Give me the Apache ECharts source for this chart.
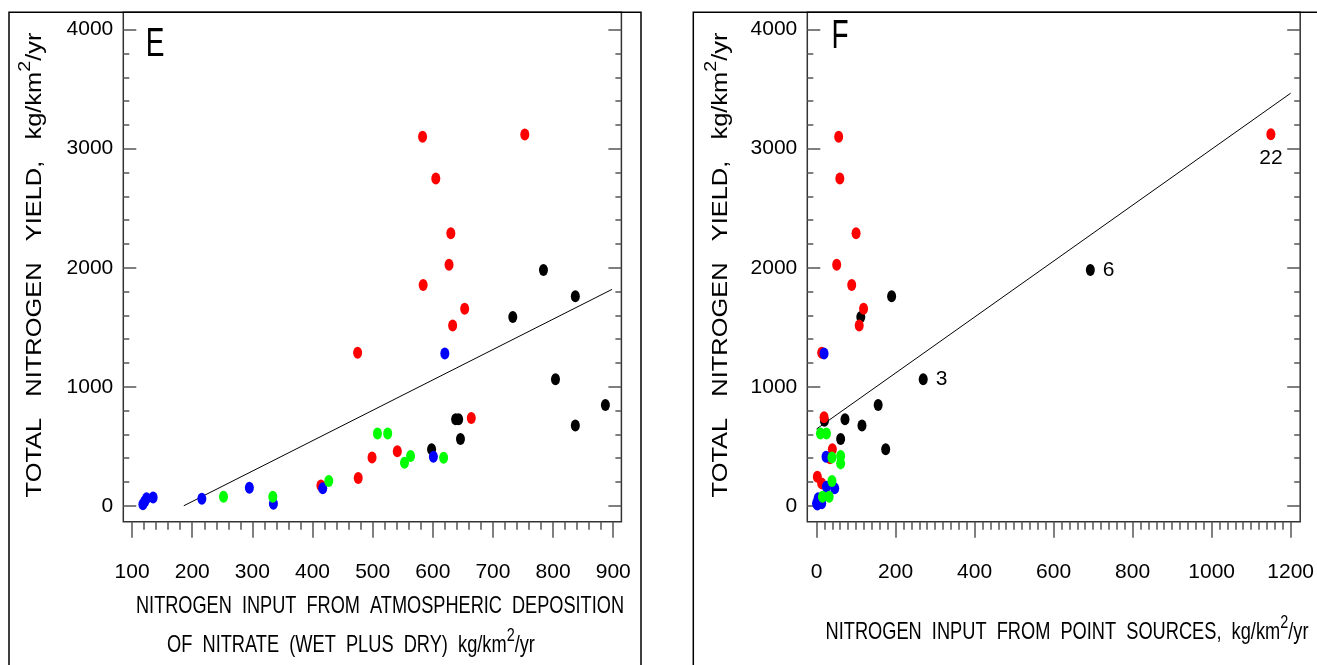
<!DOCTYPE html>
<html><head><meta charset="utf-8">
<script src="https://cdn.jsdelivr.net/npm/echarts@6/dist/echarts.min.js"></script>
<style>html,body{margin:0;padding:0;background:#fff}#c{width:1317px;height:665px}</style>
</head><body><div id="c"></div>
<script>
// ---------- Panel E: atmospheric deposition (x) vs total N yield (y) ----------
const E_black = [[784,1980],[837,1760],[733,1585],[804,1062],[887,846],[837,675],[638,726],[643,726],[646,561],[598,474]];
const E_red   = [[583,3100],[753,3120],[605,2750],[630,2290],[627,2025],[584,1855],[653,1655],[633,1515],[475,1285],[664,737],[541,457],[499,406],[476,233],[414,171]];
const E_blue  = [[620,1280],[601,412],[417,146],[295,152],[216,59],[335,17],[135,70],[124,62],[118,12],[121,35]];
const E_green = [[508,608],[525,608],[563,418],[553,361],[618,404],[427,208],[252,76],[334,76]];
const E_fit   = [[186,0],[898,1818]];

// ---------- Panel F: point sources (x) vs total N yield (y) ----------
const F_black = [[693,1981],[190,1760],[112,1585],[270,1062],[156,846],[115,675],[72,726],[20,715],[61,561],[175,474]];
const F_black_notes = ['6','','','3','','','','','',''];
const F_red   = [[56,3100],[1150,3121],[59,2750],[100,2290],[51,2025],[89,1855],[119,1655],[108,1515],[13,1285],[19,743],[40,474],[34,400],[2,244],[13,188]];
const F_red_notes = ['','22','','','','','','','','','','','',''];
const F_blue  = [[19,1280],[24,412],[46,146],[25,160],[0,20],[13,22],[4,62],[8,40],[2,10],[6,35]];
const F_green = [[10,608],[25,608],[61,418],[61,356],[39,406],[39,208],[15,76],[32,76]];
const F_fit   = [[0,645],[1200,3466]];

// ---------- ticks / texts ----------
const yMajor = [0,1000,2000,3000,4000];
const xMajorE = [100,200,300,400,500,600,700,800,900];
const xMajorF = [0,200,400,600,800,1000,1200];
const yMinor = []; for (let v = 0; v <= 4000; v += 200) yMinor.push(v);
const xMinorE = []; for (let v = 100; v <= 900; v += 20) xMinorE.push(v);
const xMinorF = []; for (let v = 0; v <= 1200; v += 20) xMinorF.push(v);

const panelLetters = ['E','F'];
const yTitle = 'TOTAL   NITROGEN   YIELD,   kg/km{s|2}/yr';
const xTitleE1 = 'NITROGEN  INPUT  FROM  ATMOSPHERIC  DEPOSITION';
const xTitleE2 = 'OF  NITRATE  (WET  PLUS  DRY)  kg/km{s|2}/yr';
const xTitleF  = 'NITROGEN  INPUT  FROM  POINT  SOURCES,  kg/km{s|2}/yr';

// ---------- font helpers ----------
const mctx = document.createElement('canvas').getContext('2d');
function hasFont(name) {
  const t = 'NITROGEN 4000 abcxyz';
  for (const fb of ['monospace','serif']) {
    mctx.font = '40px ' + fb; const w1 = mctx.measureText(t).width;
    mctx.font = "40px '" + name + "', " + fb; const w2 = mctx.measureText(t).width;
    if (Math.abs(w1 - w2) > 0.5) return true;
  }
  return false;
}
const HAS_NARROW = hasFont('Liberation Sans Narrow');
const REG = "'Liberation Sans',Arial,sans-serif";
const NARROW = HAS_NARROW ? "'Liberation Sans Narrow','Liberation Sans',sans-serif" : REG;
const TICK_FS = HAS_NARROW ? 22 : 21;
function widthOf(text, size, fam) { mctx.font = size + 'px ' + fam; return mctx.measureText(text.replace(/\{s\|(.*?)\}/g, '$1')).width; }
function scaleTo(text, size, fam, target) { return target / widthOf(text, size, fam); }

const COL = {black:'#000000', red:'#ff0000', blue:'#0000ff', green:'#00ff00'};
const TICK = {color:'#555', width:1.5};
const plain = v => String(v);

function xAxes(gi, min, max, major, minor) {
  return [
    {type:'value', gridIndex:gi, min, max, position:'bottom', axisLine:{show:false, onZero:false}, splitLine:{show:false},
     axisTick:{show:true, inside:false, length:16, customValues:major, lineStyle:TICK},
     axisLabel:{show:true, customValues:major, margin:40, formatter:plain, fontFamily:NARROW, fontSize:TICK_FS, color:'#000'}},
    {type:'value', gridIndex:gi, min, max, position:'bottom', axisLine:{show:false, onZero:false}, splitLine:{show:false},
     axisTick:{show:true, inside:false, length:8, customValues:minor, lineStyle:TICK},
     axisLabel:{show:false}}
  ];
}
function yAxes(gi) {
  const base = {type:'value', gridIndex:gi, min:-134, max:4146, axisLine:{show:false, onZero:false}, splitLine:{show:false}};
  return [
    Object.assign({}, base, {position:'left', axisTick:{show:true, inside:true, length:13, customValues:yMajor, lineStyle:TICK},
      axisLabel:{show:true, customValues:yMajor, margin:10, formatter:plain, fontFamily:NARROW, fontSize:TICK_FS, color:'#000'}}),
    Object.assign({}, base, {position:'left', axisTick:{show:true, inside:true, length:6, customValues:yMinor, lineStyle:TICK}, axisLabel:{show:false}}),
    Object.assign({}, base, {position:'right', axisTick:{show:true, inside:true, length:13, customValues:yMajor, lineStyle:TICK}, axisLabel:{show:false}}),
    Object.assign({}, base, {position:'right', axisTick:{show:true, inside:true, length:6, customValues:yMinor, lineStyle:TICK}, axisLabel:{show:false}})
  ];
}
const notePos = {'6':'right','3':'right','22':'bottom'};
function withNotes(data, notes, dist) {
  return data.map((d, i) => (notes && notes[i]) ? {value:d, label:{show:true, formatter:notes[i], position:notePos[notes[i]] || 'right', distance:dist, fontFamily:NARROW, fontSize:HAS_NARROW ? 24 : 21, color:'#000'}} : d);
}
function scat(name, data, color, xi, yi) {
  return {type:'scatter', name, data, xAxisIndex:xi, yAxisIndex:yi, symbol:'circle', symbolSize:[9,12],
          itemStyle:{color, opacity:1}, emphasis:{disabled:true}, silent:true};
}
function fit(data, xi, yi) {
  return {type:'line', data, xAxisIndex:xi, yAxisIndex:yi, symbol:'none', lineStyle:{color:'#000', width:1}, silent:true, z:1};
}
function title(text, x, y, target, size, fam, rot) {
  return {type:'text', x, y, rotation:rot || 0, scaleX:scaleTo(text, size, fam, target), silent:true,
    style:{text, fontFamily:fam, fontSize:size, lineHeight:size + 14, fill:'#000', align:'center', verticalAlign:'middle',
      rich:{s:{fontFamily:fam, fontSize:Math.round(size * 0.78), verticalAlign:'top', fill:'#000'}}}};
}
function letter(text, x, y) {
  const fs = 40;
  return {type:'text', x, y, scaleX:HAS_NARROW ? 0.85 : 0.7, silent:true,
    style:{text, fontFamily:NARROW, fontSize:fs, fill:'#000', align:'center', verticalAlign:'middle'}};
}

const option = {
  animation:false,
  backgroundColor:'#fff',
  grid:[
    {left:123.3, top:12.3, width:498.1, height:509.4, show:true, borderColor:'#333', borderWidth:1.5, backgroundColor:'transparent', containLabel:false},
    {left:807.3, top:12.3, width:495, height:509.4, show:true, borderColor:'#333', borderWidth:1.5, backgroundColor:'transparent', containLabel:false}
  ],
  xAxis:[].concat(xAxes(0, 85.4, 913.6, xMajorE, xMinorE), xAxes(1, -23.4, 1224.2, xMajorF, xMinorF)),
  yAxis:[].concat(yAxes(0), yAxes(1)),
  series:[
    fit(E_fit, 0, 0),
    scat('black', E_black, COL.black, 0, 0),
    scat('red', E_red, COL.red, 0, 0),
    scat('blue', E_blue, COL.blue, 0, 0),
    scat('green', E_green, COL.green, 0, 0),
    fit(F_fit, 2, 4),
    scat('black', withNotes(F_black, F_black_notes, 8), COL.black, 2, 4),
    scat('red', withNotes(F_red, F_red_notes, 7), COL.red, 2, 4),
    scat('blue', F_blue, COL.blue, 2, 4),
    scat('green', F_green, COL.green, 2, 4)
  ],
  graphic:[
    {type:'rect', shape:{x:9, y:12.3, width:632, height:720}, style:{fill:'none', stroke:'#000', lineWidth:1.5}, silent:true},
    {type:'rect', shape:{x:693.3, y:12.3, width:720, height:720}, style:{fill:'none', stroke:'#000', lineWidth:1.5}, silent:true},
    letter(panelLetters[0], 155, 45),
    letter(panelLetters[1], 840, 37),
    title(yTitle, 35, 265, 468, 22, REG, Math.PI / 2),
    title(yTitle, 721, 265, 468, 22, REG, Math.PI / 2),
    title(xTitleE1, 380, 606, 488, 24, NARROW),
    title(xTitleE2, 351, 645, 370, 24, NARROW),
    title(xTitleF, 1067, 632, 485, 24, NARROW)
  ]
};
const chart = echarts.init(document.getElementById('c'), null, {renderer:'canvas'});
chart.setOption(option);
</script>
</body></html>
